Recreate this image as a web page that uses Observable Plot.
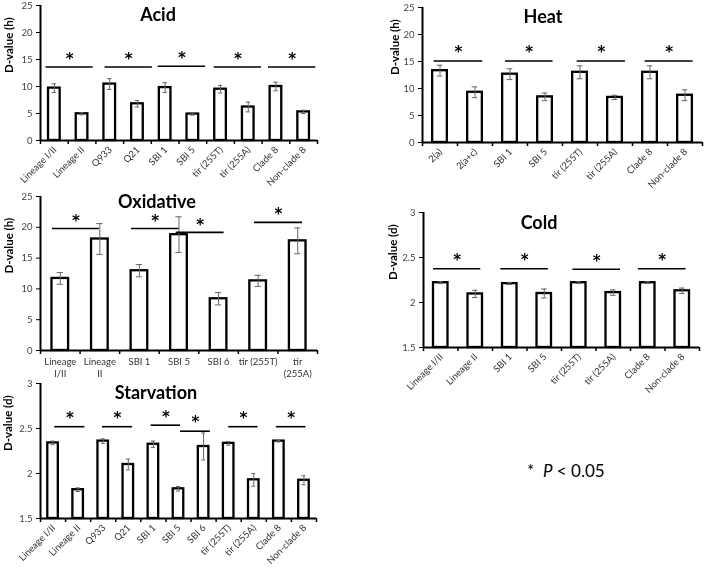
<!DOCTYPE html>
<html><head><meta charset="utf-8">
<script src="https://cdn.jsdelivr.net/npm/d3@7"></script>
<script src="https://cdn.jsdelivr.net/npm/@observablehq/plot@0.6"></script>
<style>
body{margin:0;background:#fff;}
#wrap{position:relative;width:708px;height:570px;overflow:hidden;font-family:Lato,sans-serif;background:#fff;filter:grayscale(1);}
.panel{position:absolute;will-change:transform;}
.title{position:absolute;font-weight:bold;font-size:18px;transform:translate(-50%,-50%);white-space:nowrap;color:#000;}
.legend{position:absolute;font-size:17px;transform:translate(0,-50%);white-space:nowrap;color:#000;}
</style></head><body><div id="wrap"></div>
<script>
// ---------- Acid ----------
const acidCats = ["Lineage I/II","Lineage II","Q933","Q21","SBI 1","SBI 5","tir (255T)","tir (255A)","Clade 8","Non-clade 8"];
const acidVals = [9.7,4.95,10.45,6.8,9.8,4.9,9.5,6.2,10.0,5.3];
const acidErrs = [0.8,0.2,1.0,0.6,0.9,0.2,0.7,0.9,0.8,0.3];
const acidSigFrom = [-0.30,1.83,3.75,5.77,7.73];
const acidSigTo = [1.40,3.54,5.46,7.48,9.44];
const acidSigY = [13.6,13.6,13.75,13.6,13.6];
const acidStarY = [15.8,15.8,16.0,15.8,15.8];
// ---------- Heat ----------
const heatCats = ["2(a)","2(a+c)","SBI 1","SBI 5","tir (255T)","tir (255A)","Clade 8","Non-clade 8"];
const heatVals = [13.3,9.3,12.65,8.45,13.0,8.35,13.0,8.75];
const heatErrs = [1.0,1.0,1.0,0.7,1.2,0.4,1.2,1.0];
const heatSigFrom = [-0.17,1.87,3.92,5.86];
const heatSigTo = [1.22,3.23,5.30,7.23];
const heatSigY = [15.1,15.1,15.1,15.1];
const heatStarY = [17.5,17.5,17.5,17.5];
// ---------- Oxidative ----------
const oxCats = ["Lineage\nI/II","Lineage\nII","SBI 1","SBI 5","SBI 6","tir (255T)","tir\n(255A)"];
const oxVals = [11.7,18.1,12.95,18.8,8.4,11.3,17.8];
const oxErrs = [0.95,2.5,1.0,2.9,1.0,0.9,2.1];
const oxSigFrom = [-0.2,1.8,2.93,4.91];
const oxSigTo = [0.99,3.0,4.14,6.12];
const oxSigY = [19.8,19.8,19.17,20.8];
const oxStarY = [21.7,21.7,21.05,22.7];
// ---------- Cold ----------
const coldCats = ["Lineage I/II","Lineage II","SBI 1","SBI 5","tir (255T)","tir (255A)","Clade 8","Non-clade 8"];
const coldVals = [2.22,2.095,2.21,2.10,2.22,2.11,2.22,2.13];
const coldErrs = [0.01,0.04,0.01,0.05,0.01,0.03,0.01,0.03];
const coldSigFrom = [-0.21,1.74,3.83,5.73];
const coldSigTo = [1.16,3.12,5.21,7.11];
const coldSigY = [2.375,2.375,2.37,2.375];
const coldStarY = [2.51,2.51,2.50,2.51];
// ---------- Starvation ----------
const starvCats = ["Lineage I/II","Lineage II","Q933","Q21","SBI 1","SBI 5","SBI 6","tir (255T)","tir (255A)","Clade 8","Non-clade 8"];
const starvVals = [2.34,1.82,2.36,2.10,2.325,1.83,2.30,2.335,1.93,2.36,1.925];
const starvErrs = [0.02,0.02,0.025,0.06,0.035,0.025,0.15,0.02,0.07,0.01,0.05];
const starvSigFrom = [0.07,1.97,3.91,5.08,7.0,8.9];
const starvSigTo = [1.27,3.17,5.08,6.27,8.17,10.08];
const starvSigY = [2.52,2.52,2.537,2.47,2.52,2.52];
const starvStarY = [2.656,2.656,2.67,2.61,2.656,2.656];

const hTicks = [0,5,10,15,20,25];
const dTicks = [1.5,2,2.5,3];

const wrap = document.getElementById("wrap");

function panel(o) {
  const n = o.cats.length;
  const data = o.vals.map((v,i)=>({i, v, e:o.errs[i]}));
  const sig = o.sigFrom.map((a,k)=>({a, b:o.sigTo[k], y:o.sigY[k], s:o.starY[k]}));
  const [ymin, ymax] = o.yDomain;
  const chart = Plot.plot({
    width: o.width, height: o.height,
    marginLeft: o.m[0], marginRight: o.m[1], marginTop: o.m[2], marginBottom: o.m[3],
    style: {background: "transparent", overflow: "visible", fontFamily: "Lato, sans-serif"},
    x: {domain: [-0.5, n - 0.5], axis: null},
    y: {domain: o.yDomain, axis: null},
    marks: [
      Plot.rectY(data, {x1: d=>d.i-0.21, x2: d=>d.i+0.21, y1: ymin, y2: "v", fill: "white", stroke: "black", strokeWidth: 2.3}),
      Plot.ruleX(data, {x: "i", y1: d=>d.v-d.e, y2: d=>d.v+d.e, stroke: "#666", strokeWidth: 1}),
      Plot.ruleY(data, {y: d=>d.v+d.e, x1: d=>d.i-0.08, x2: d=>d.i+0.08, stroke: "#666", strokeWidth: 1}),
      Plot.ruleY(data, {y: d=>d.v-d.e, x1: d=>d.i-0.08, x2: d=>d.i+0.08, stroke: "#666", strokeWidth: 1}),
      Plot.ruleY([ymin], {x1: -0.5, x2: n - 0.5, stroke: "black", strokeWidth: 2}),
      Plot.ruleX([-0.5], {y1: ymin, y2: ymax, stroke: "black", strokeWidth: 2}),
      Plot.axisY({ticks: o.yTicks, tickFormat: d=>String(d), tickSize: 4, tickPadding: 4, stroke: "black", fill: "#444", fontSize: 9.5, label: null}),
      Plot.axisX({ticks: d3.range(n+1).map(i=>i-0.5), tickFormat: ()=>"", tickSize: 4, stroke: "black", strokeWidth: 1.5, label: null}),
      Plot.axisX({ticks: d3.range(n), tickFormat: i=>o.cats[i], tickSize: 0, tickPadding: o.rotate ? 7 : 5,
                  tickRotate: o.rotate ? -45 : 0, fill: "#333", fontSize: 9.5, lineHeight: 1.35, label: null}),
      Plot.ruleY(sig, {y: "y", x1: "a", x2: "b", stroke: "black", strokeWidth: 1.6}),
      Plot.text(sig, {x: d=>(d.a+d.b)/2, y: "s", text: ()=>"*", fontFamily: "DejaVu Sans", fontWeight: "bold", fontSize: 15, dy: 4, fill: "black"}),
      Plot.text([o.yLabel], {frameAnchor: "left", rotate: -90, dx: o.labelDx, fontWeight: "bold", fontSize: 11.5, fill: "black"})
    ]
  });
  const div = document.createElement("div");
  div.className = "panel";
  div.style.left = o.left + "px";
  div.style.top = o.top + "px";
  div.appendChild(chart);
  wrap.appendChild(div);
  const t = document.createElement("div");
  t.className = "title";
  t.textContent = o.title;
  t.style.left = o.titleX + "px";
  t.style.top = o.titleY + "px";
  wrap.appendChild(t);
}

panel({title: "Acid", titleX: 158, titleY: 14, cats: acidCats, vals: acidVals, errs: acidErrs,
  sigFrom: acidSigFrom, sigTo: acidSigTo, sigY: acidSigY, starY: acidStarY,
  yDomain: [0,25], yTicks: hTicks, yLabel: "D-value (h)", rotate: true, labelDx: -31,
  left: 0, top: 0, width: 330, height: 182, m: [40, 13, 5, 42]});

panel({title: "Heat", titleX: 543, titleY: 16, cats: heatCats, vals: heatVals, errs: heatErrs,
  sigFrom: heatSigFrom, sigTo: heatSigTo, sigY: heatSigY, starY: heatStarY,
  yDomain: [0,25], yTicks: hTicks, yLabel: "D-value (h)", rotate: true, labelDx: -27,
  left: 360, top: 0, width: 348, height: 182, m: [62, 6, 7, 40]});

panel({title: "Oxidative", titleX: 157, titleY: 201, cats: oxCats, vals: oxVals, errs: oxErrs,
  sigFrom: oxSigFrom, sigTo: oxSigTo, sigY: oxSigY, starY: oxStarY,
  yDomain: [0,25], yTicks: hTicks, yLabel: "D-value (h)", rotate: false, labelDx: -31,
  left: 0, top: 180, width: 330, height: 200, m: [40, 13, 16, 30]});

panel({title: "Cold", titleX: 539, titleY: 222, cats: coldCats, vals: coldVals, errs: coldErrs,
  sigFrom: coldSigFrom, sigTo: coldSigTo, sigY: coldSigY, starY: coldStarY,
  yDomain: [1.5,3], yTicks: dTicks, yLabel: "D-value (d)", rotate: true, labelDx: -30,
  left: 360, top: 200, width: 348, height: 190, m: [63, 9, 12, 43]});

panel({title: "Starvation", titleX: 156, titleY: 392, cats: starvCats, vals: starvVals, errs: starvErrs,
  sigFrom: starvSigFrom, sigTo: starvSigTo, sigY: starvSigY, starY: starvStarY,
  yDomain: [1.5,3], yTicks: dTicks, yLabel: "D-value (d)", rotate: true, labelDx: -32,
  left: 0, top: 370, width: 330, height: 200, m: [40, 14, 13, 52]});

const lg = document.createElement("div");
lg.className = "legend";
lg.innerHTML = "*&nbsp;&nbsp;<i>P</i> &lt; 0.05";
lg.style.left = "527px";
lg.style.top = "470px";
wrap.appendChild(lg);
</script></body></html>
